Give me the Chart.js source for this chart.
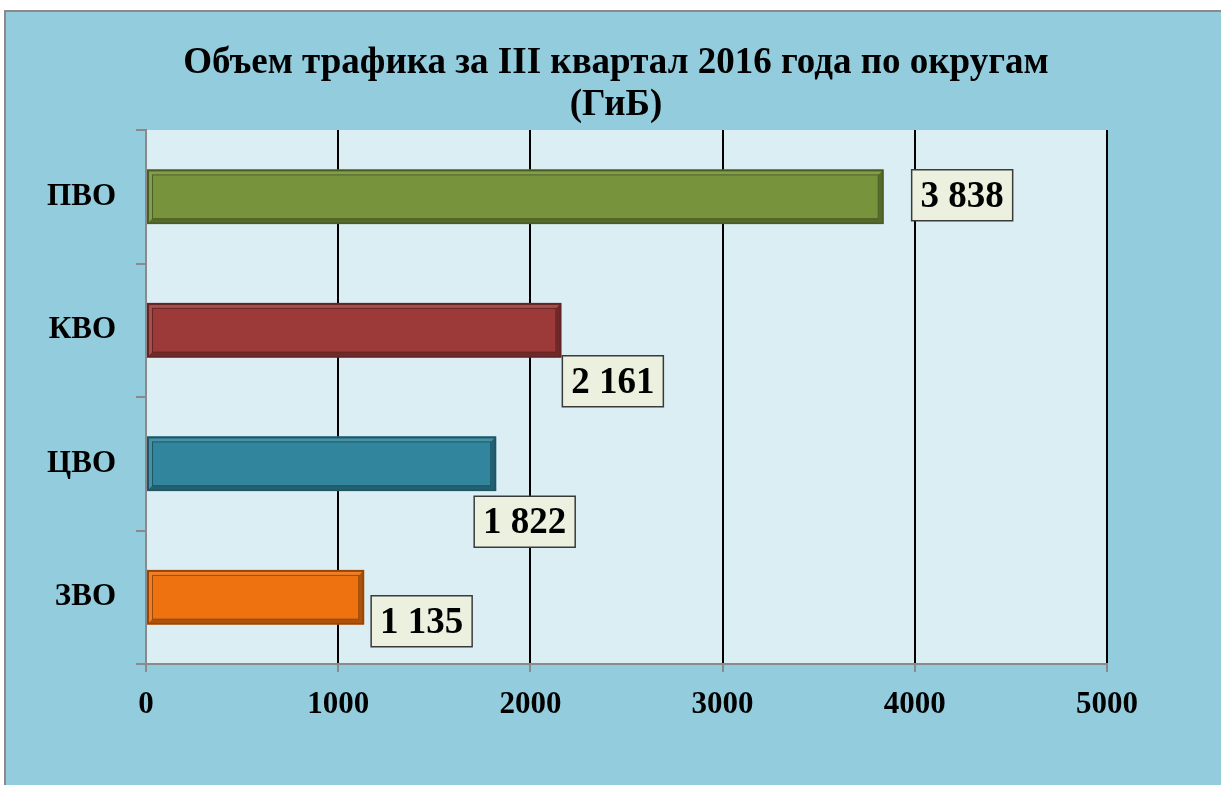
<!DOCTYPE html>
<html><head><meta charset="utf-8">
<script src="https://cdn.jsdelivr.net/npm/chart.js@4"></script>
<style>
html,body{margin:0;padding:0;background:#fff;width:1221px;height:785px;overflow:hidden}
#frame{position:absolute;left:4px;top:10px;width:1221px;height:785px;background:#93CCDD;border-left:2px solid #8a8a8a;border-top:2px solid #8a8a8a;box-sizing:border-box}
#wrap{position:absolute;left:0;top:0;width:1221px;height:785px}
</style></head><body>
<div id="frame"></div>
<div id="wrap"><canvas id="c" width="1221" height="785"></canvas></div>
<script>
const categories = ['ПВО', 'КВО', 'ЦВО', 'ЗВО'];
const values = [3838, 2161, 1822, 1135];
const barColors = ['#77933C', '#9B3A38', '#31859C', '#EE7210'];
const barEdge = ['#4A5E22', '#632423', '#1F5565', '#9A4506'];
const labelTexts = ['3 838', '2 161', '1 822', '1 135'];
const xTicks = [0, 1000, 2000, 3000, 4000, 5000];
const titleLines = ['Объем трафика за III квартал 2016 года по округам', '(ГиБ)'];

const SERIF = "'Liberation Serif', 'Times New Roman', serif";

const plotBg = {
  id: 'plotBg',
  beforeDraw(chart) {
    const {ctx, chartArea: a} = chart;
    ctx.save();
    ctx.fillStyle = '#DBEEF4';
    ctx.fillRect(a.left, a.top, a.right - a.left, a.bottom - a.top);
    ctx.restore();
  }
};

const titleDraw = {
  id: 'titleDraw',
  afterDraw(chart, args, opts) {
    const {ctx} = chart;
    ctx.save();
    ctx.font = 'bold 37px ' + SERIF;
    ctx.fillStyle = '#000';
    ctx.textAlign = 'center';
    ctx.textBaseline = 'middle';
    titleLines.forEach((t, i) => ctx.fillText(t, opts.cx, opts.y0 + i * opts.lh));
    ctx.restore();
  }
};

const bevel = {
  id: 'bevel',
  afterDatasetsDraw(chart) {
    const {ctx} = chart;
    const meta = chart.getDatasetMeta(0);
    ctx.save();
    meta.data.forEach((bar, i) => {
      const x0 = bar.base, x1 = bar.x, y0 = bar.y - bar.height / 2, y1 = bar.y + bar.height / 2;
      const ins = 5;
      ctx.strokeStyle = barEdge[i];
      ctx.lineWidth = 2;
      ctx.strokeRect(x0 + 1, y0 + 1, x1 - x0 - 2, y1 - y0 - 2);
      ctx.fillStyle = 'rgba(255,255,255,0.10)';
      ctx.beginPath();
      ctx.moveTo(x0 + 2, y0 + 2); ctx.lineTo(x1 - 2, y0 + 2); ctx.lineTo(x1 - ins, y0 + ins);
      ctx.lineTo(x0 + ins, y0 + ins); ctx.lineTo(x0 + ins, y1 - ins); ctx.lineTo(x0 + 2, y1 - 2);
      ctx.closePath(); ctx.fill();
      ctx.fillStyle = 'rgba(0,0,0,0.28)';
      ctx.beginPath();
      ctx.moveTo(x1 - 2, y0 + 2); ctx.lineTo(x1 - 2, y1 - 2); ctx.lineTo(x0 + 2, y1 - 2);
      ctx.lineTo(x0 + ins, y1 - ins); ctx.lineTo(x1 - ins, y1 - ins); ctx.lineTo(x1 - ins, y0 + ins);
      ctx.closePath(); ctx.fill();
      ctx.strokeStyle = 'rgba(0,0,0,0.35)';
      ctx.lineWidth = 1;
      ctx.strokeRect(x0 + ins + 0.5, y0 + ins + 0.5, x1 - x0 - 2 * ins - 1, y1 - y0 - 2 * ins - 1);
    });
    ctx.restore();
  }
};

const boxLabels = {
  id: 'boxLabels',
  afterDatasetsDraw(chart, args, opts) {
    const {ctx} = chart;
    const meta = chart.getDatasetMeta(0);
    ctx.save();
    ctx.font = 'bold 37px ' + SERIF;
    ctx.textAlign = 'center';
    ctx.textBaseline = 'middle';
    meta.data.forEach((bar, i) => {
      const off = opts.offsets[i];
      const w = opts.width, h = opts.height;
      const left = bar.x + off[0];
      const cy = bar.y + off[1];
      ctx.fillStyle = '#EBF1DE';
      ctx.fillRect(left, cy - h / 2, w, h);
      ctx.strokeStyle = '#3A3A3A';
      ctx.lineWidth = 1.5;
      ctx.strokeRect(left, cy - h / 2, w, h);
      ctx.fillStyle = '#000';
      ctx.fillText(labelTexts[i], left + w / 2, cy + 2);
    });
    ctx.restore();
  }
};

new Chart(document.getElementById('c'), {
  type: 'bar',
  data: {
    labels: categories,
    datasets: [{
      data: values,
      backgroundColor: barColors,
      borderWidth: 0,
      barPercentage: 0.41,
      categoryPercentage: 1
    }]
  },
  options: {
    indexAxis: 'y',
    responsive: false,
    animation: false,
    layout: {padding: {left: 0, right: 114, top: 130, bottom: 0}},
    plugins: {
      legend: {display: false},
      tooltip: {enabled: false},
      title: {display: false},
      titleDraw: {cx: 616, y0: 63, lh: 42},
      boxLabels: {
        width: 101, height: 51,
        offsets: [[28, -1.5], [1, 51], [-22, 58], [7, 24]]
      }
    },
    scales: {
      x: {
        min: 0, max: 5000,
        afterBuildTicks(scale) { scale.ticks = xTicks.map(v => ({value: v})); },
        afterFit(scale) { scale.height = 121; },
        grid: {
          color: ctx => ctx.tick && ctx.tick.value === 0 ? '#8a8a8a' : '#000',
          lineWidth: 2,
          tickColor: '#8a8a8a',
          tickLength: 8,
          drawTicks: true
        },
        border: {display: true, color: '#8a8a8a', width: 2},
        ticks: {
          color: '#000',
          padding: 14,
          callback: v => String(v),
          font: {family: SERIF, size: 31, weight: 'bold'}
        }
      },
      y: {
        afterFit(scale) { scale.width = 146; },
        grid: {
          drawOnChartArea: false,
          tickColor: '#8a8a8a',
          tickLength: 10,
          lineWidth: 2
        },
        border: {display: true, color: '#8a8a8a', width: 2},
        ticks: {
          color: '#000',
          padding: 20,
          font: {family: SERIF, size: 31, weight: 'bold'}
        }
      }
    }
  },
  plugins: [plotBg, bevel, boxLabels, titleDraw]
});
</script>
</body></html>
